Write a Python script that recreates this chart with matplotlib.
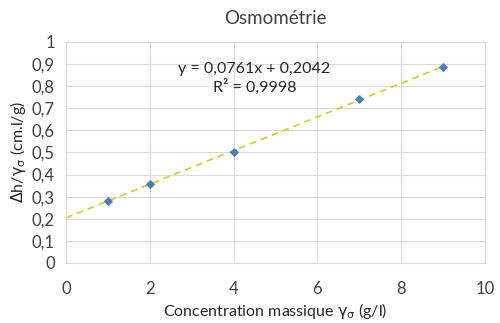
import numpy as np
import matplotlib.pyplot as plt
from matplotlib.ticker import FuncFormatter

plt.rcParams['font.family'] = ['Lato', 'DejaVu Sans']
plt.rcParams['mathtext.fontset'] = 'dejavusans'

# mass concentration (g/l) and reduced height difference (cm.l/g)
conc = [1, 2, 4, 7, 9]
dh_red = [0.28, 0.358, 0.50, 0.74, 0.888]

# linear trendline as displayed on the chart
slope = 0.0761
intercept = 0.2042
r2 = 0.9998

fig = plt.figure(figsize=(5, 3.23), dpi=100)
ax = fig.add_axes([0.132, 0.186, 0.838, 0.684])

xs = np.array([0, max(conc)])
ax.plot(xs, slope * xs + intercept, ls=(0, (4, 3)), color='#c8d02a', lw=1.2, zorder=2)
ax.scatter(conc, dh_red, marker='D', s=14, color='#4a7ebb', zorder=3)

ax.set_xlim(0, 10)
ax.set_ylim(0, 1)
ax.set_xticks(np.arange(0, 11, 2))
ax.set_yticks(np.arange(0, 1.01, 0.1))
comma = FuncFormatter(lambda v, p: ('%g' % round(v, 1)).replace('.', ','))
ax.xaxis.set_major_formatter(comma)
ax.yaxis.set_major_formatter(comma)
ax.grid(True, color='#d9d9d9', lw=0.8)
ax.set_axisbelow(True)
for s in ax.spines.values():
    s.set_color('#d9d9d9')
ax.tick_params(length=0, labelsize=12, colors='#404040', pad=8)
ax.tick_params(axis='x', pad=13)

ax.set_title('Osmométrie', fontsize=13.5, color='#404040', pad=13)
ax.set_xlabel(r'Concentration massique $\mathrm{\gamma_\sigma}$ (g/l)', fontsize=11.5,
              color='#262626', labelpad=3)
ax.set_ylabel(r'$\Delta$h/$\mathrm{\gamma_\sigma}$ (cm.l/g)', fontsize=11.5,
              color='#262626', labelpad=3)

eq = 'y = %sx + %s' % (('%.4f' % slope).replace('.', ','), ('%.4f' % intercept).replace('.', ','))
ax.text(4.5, 0.878, eq, ha='center', va='center', fontsize=11.5, color='#262626')
ax.text(4.5, 0.795, 'R² = %s' % ('%.4f' % r2).replace('.', ','), ha='center', va='center',
        fontsize=11.5, color='#262626')

fig.savefig('out.png', dpi=100)
